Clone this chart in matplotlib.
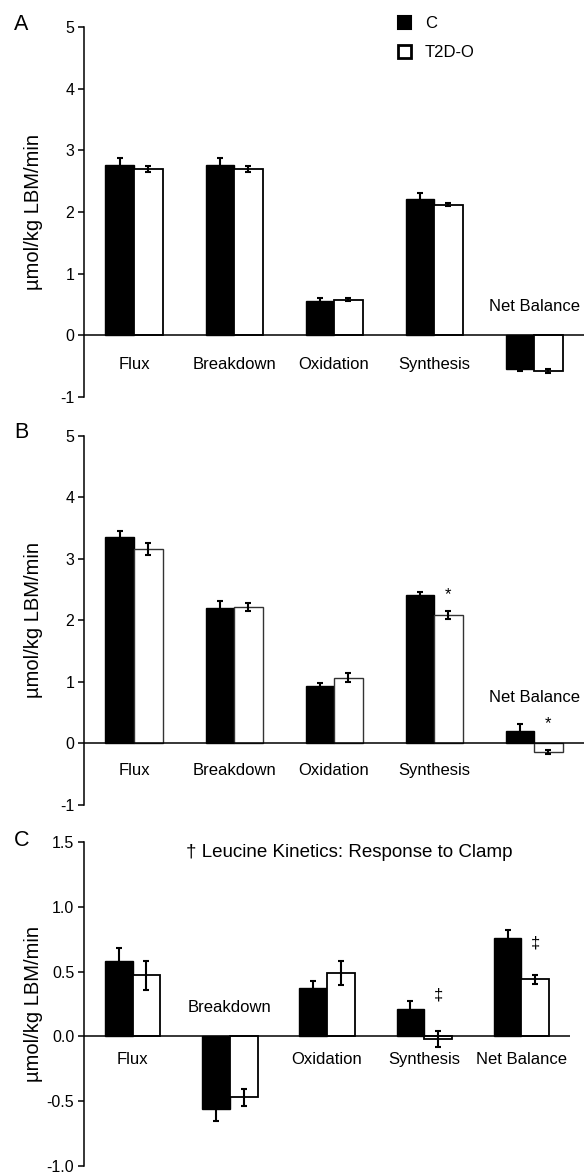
import matplotlib
matplotlib.use("Agg")
import matplotlib.pyplot as plt
from matplotlib.patches import Patch
from matplotlib.transforms import blended_transform_factory
import numpy as np

plt.rcParams['font.family'] = ['Liberation Sans', 'DejaVu Sans']

categories = ['Flux', 'Breakdown', 'Oxidation', 'Synthesis', 'Net Balance']
groups = ['C', 'T2D-O']

# panel A: basal
a_c = [2.76, 2.76, 0.55, 2.21, -0.54]
a_c_err = [0.11, 0.11, 0.06, 0.10, 0.04]
a_t = [2.70, 2.70, 0.58, 2.12, -0.58]
a_t_err = [0.05, 0.05, 0.02, 0.03, 0.03]

# panel B: clamp
b_c = [3.35, 2.20, 0.93, 2.41, 0.21]
b_c_err = [0.10, 0.12, 0.06, 0.06, 0.10]
b_t = [3.16, 2.22, 1.07, 2.09, -0.14]
b_t_err = [0.10, 0.07, 0.07, 0.07, 0.03]

# panel C: response to clamp
c_c = [0.58, -0.56, 0.37, 0.21, 0.76]
c_c_err = [0.10, 0.09, 0.06, 0.06, 0.06]
c_t = [0.47, -0.47, 0.49, -0.02, 0.44]
c_t_err = [0.11, 0.065, 0.09, 0.06, 0.035]

ylabel = 'µmol/kg LBM/min'

fig = plt.figure(figsize=(5.87, 11.76), dpi=100)
axA = fig.add_axes([0.1431, 0.6624, 0.8518, 0.3146])
axB = fig.add_axes([0.1431, 0.3155, 0.8518, 0.3138])
axC = fig.add_axes([0.1431, 0.0085, 0.8280, 0.2755])

x = np.arange(len(categories))
w = 0.285


def draw_panel(ax, cv, ce, tv, te, ylim, yticks, yticklabels, label_y, special,
               edge_lw=1.3, edge_col='black'):
    ekw = dict(ecolor='black', elinewidth=1.5, capsize=2.2, capthick=1.5)
    ax.bar(x - w / 2, cv, w, color='black', edgecolor='black', linewidth=1,
           yerr=ce, error_kw=ekw)
    ax.bar(x + w / 2, tv, w, color='white', edgecolor=edge_col, linewidth=edge_lw,
           yerr=te, error_kw=ekw)
    ax.axhline(0, color='black', lw=1.1, zorder=3)
    ax.set_xlim(-0.5, 4.5)
    ax.set_ylim(*ylim)
    ax.set_yticks(yticks)
    ax.set_yticklabels(yticklabels, fontsize=11.5)
    ax.set_xticks([])
    for s in ['top', 'right', 'bottom']:
        ax.spines[s].set_visible(False)
    ax.spines['left'].set_linewidth(1.1)
    ax.tick_params(axis='y', direction='out', length=4, width=1.1, pad=3)
    ax.set_ylabel(ylabel, fontsize=14.5)
    ax.yaxis.set_label_coords(-41 / (ax.get_position().width * 587), 0.5)
    for i, cat in enumerate(categories):
        yy = special.get(cat, label_y)
        ax.text(x[i], yy, cat, ha='center', va='center', fontsize=12)
    ax.patch.set_alpha(0)


draw_panel(axA, a_c, a_c_err, a_t, a_t_err, (-1, 5), [-1, 0, 1, 2, 3, 4, 5],
           ['-1', '0', '1', '2', '3', '4', '5'], -0.48, {'Net Balance': 0.47})
draw_panel(axB, b_c, b_c_err, b_t, b_t_err, (-1, 5), [-1, 0, 1, 2, 3, 4, 5],
           ['-1', '0', '1', '2', '3', '4', '5'], -0.44, {'Net Balance': 0.75},
           edge_lw=1.0, edge_col='#333333')
draw_panel(axC, c_c, c_c_err, c_t, c_t_err, (-1.0, 1.5), [-1.0, -0.5, 0.0, 0.5, 1.0, 1.5],
           ['-1.0', '-0.5', '0.0', '0.5', '1.0', '1.5'], -0.18, {'Breakdown': 0.22})

# significance marks
axB.text(x[3] + w / 2, 2.42, '*', ha='center', va='center', fontsize=12)
axB.text(x[4] + w / 2, 0.33, '*', ha='center', va='center', fontsize=12)
axC.text(x[3] + w / 2, 0.32, '‡', ha='center', va='center', fontsize=12)
axC.text(x[4] + w / 2, 0.72, '‡', ha='center', va='center', fontsize=12)

axC.text(0.545, 1.42, '† Leucine Kinetics: Response to Clamp',
         transform=blended_transform_factory(axC.transAxes, axC.transData),
         ha='center', va='center', fontsize=13.5)

# panel letters
fig.text(0.0366, 1 - 24.5 / 1176, 'A', fontsize=15.5, ha='center', va='center')
fig.text(0.0366, 1 - 432.5 / 1176, 'B', fontsize=15.5, ha='center', va='center')
fig.text(0.0366, 1 - 841 / 1176, 'C', fontsize=15.5, ha='center', va='center')

handles = [Patch(facecolor='black', edgecolor='black', linewidth=1.5),
           Patch(facecolor='white', edgecolor='black', linewidth=2)]
axA.legend(handles, groups, loc='upper left', bbox_to_anchor=(0.628, 1.03), frameon=False,
           fontsize=12, handlelength=0.8, handleheight=0.8, handletextpad=0.8,
           labelspacing=0.85, borderpad=0, borderaxespad=0)

fig.savefig('out.png', dpi=100)
